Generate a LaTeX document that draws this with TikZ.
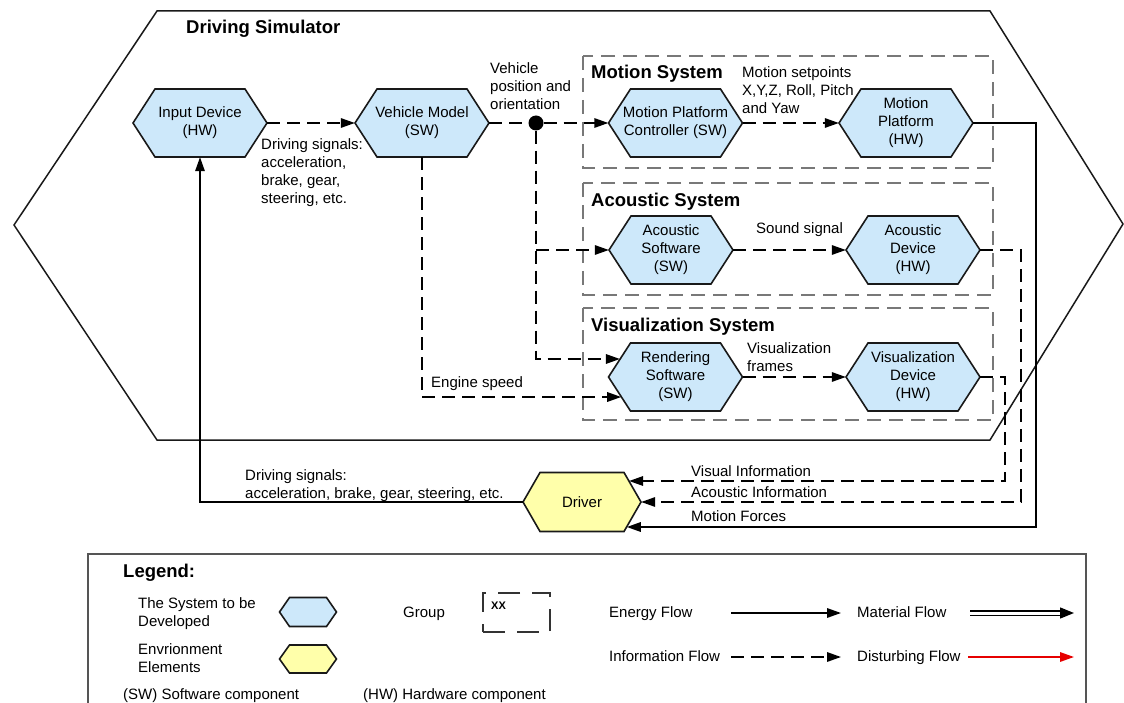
\documentclass[tikz,border=0pt]{standalone}
\usepackage{fontspec}
\setmainfont{Liberation Sans}
\usetikzlibrary{arrows.meta,calc}

\definecolor{sysblue}{RGB}{205,232,250}
\definecolor{envyellow}{RGB}{255,255,170}
\definecolor{groupgray}{RGB}{120,120,120}
\definecolor{framegray}{RGB}{85,85,85}
\definecolor{disturbred}{RGB}{230,0,0}

\tikzset{
  hexline/.style={draw=black!90, line width=1.6pt, line join=miter},
  hextext/.style={inner sep=0pt, align=center, font=\fontsize{15}{18}\selectfont},
  title/.style={font=\bfseries\fontsize{18.5}{22}\selectfont, anchor=west, inner sep=0pt, text height=13.5pt, text depth=4pt},
  lbl/.style={font=\fontsize{15}{18}\selectfont, anchor=west, inner sep=0pt, text height=11pt, text depth=3pt},
  mlbl/.style={font=\fontsize{15}{18}\selectfont, anchor=north west, inner sep=0pt, align=left},
  tip/.style={-{Triangle[length=14pt,width=9.5pt]}},
  infoline/.style={line width=1.6pt, dash pattern=on 13pt off 7pt},
  info/.style={infoline, tip},
  energy/.style={line width=1.6pt, tip},
  groupbox/.style={draw=groupgray, line width=1.3pt, dash pattern=on 14pt off 8pt},
  boundary/.style={draw=black!90, line width=1.5pt, line join=miter},
}

% hexagonal block: name, x, y, half width, half height, slant, fill, text
\newcommand\hexnode[8]{%
  \path[hexline, fill=#7] (#2-#4,#3) -- (#2-#4+#6,#3-#5) -- (#2+#4-#6,#3-#5)
     -- (#2+#4,#3) -- (#2+#4-#6,#3+#5) -- (#2-#4+#6,#3+#5) -- cycle;
  \node[hextext, minimum width=2*#4, minimum height=2*#5] (#1) at (#2,#3) {#8};%
}

\begin{document}
\begin{tikzpicture}[x=1pt,y=-1pt]
\useasboundingbox (0,0) rectangle (1124,703);

% outer boundary of the driving simulator
\draw[boundary] (157,11) -- (990,11) -- (1123,224) -- (990,440) -- (157,440) -- (14,225) -- cycle;
\node[title] (tsim) at (186,29) {Driving Simulator};

% subsystem groups
\draw[groupbox] (583,56) rectangle (993,168);
\draw[groupbox] (583,183) rectangle (993,295);
\draw[groupbox] (583,308) rectangle (993,420);
\node[title] (tmot) at (591,74) {Motion System};
\node[title] (taco) at (591,202) {Acoustic System};
\node[title] (tvis) at (591,327) {Visualization System};

% blocks
\hexnode{inp}{200}{123}{67}{34}{22}{sysblue}{Input Device\\(HW)}
\hexnode{veh}{422}{123}{67}{34}{22}{sysblue}{Vehicle Model\\(SW)}
\hexnode{mpc}{675.5}{123}{67}{34}{22}{sysblue}{Motion Platform\\Controller (SW)}
\hexnode{mp}{906}{123}{67}{34}{22}{sysblue}{Motion\\Platform\\(HW)}
\hexnode{as}{671}{250}{62}{34}{22}{sysblue}{Acoustic\\Software\\(SW)}
\hexnode{ad}{913}{250}{67}{34}{22}{sysblue}{Acoustic\\Device\\(HW)}
\hexnode{rs}{675.5}{377}{67}{34}{22}{sysblue}{Rendering\\Software\\(SW)}
\hexnode{vd}{913}{377}{67}{34}{22}{sysblue}{Visualization\\Device\\(HW)}
\hexnode{drv}{582}{502}{59}{29.5}{17}{envyellow}{Driver}

% branching point of the vehicle state
\node[circle, fill=black, inner sep=0pt, minimum size=15pt] (dot) at (536,123) {};
\coordinate (branch) at (dot |- as.west);
\coordinate (rsup) at ($(rs.west)+(11.6,-18)$);
\coordinate (rslow) at ($(rs.west)+(12.9,20)$);
\coordinate (drvvis) at ($(drv.east)+(-12.1,-21)$);
\coordinate (drvmot) at ($(drv.east)+(-14.4,25)$);
\coordinate (viscol) at (1005,430);
\coordinate (acocol) at (1021,400);
\coordinate (motcol) at (1036,300);

% information flows
\draw[info] (inp.east) -- (veh.west);
\draw[infoline] (veh.east) -- (dot);
\draw[info] (dot) -- (mpc.west);
\draw[info] (dot) |- (rsup);
\draw[info] (branch) -- (as.west);
\draw[info] (veh.south) |- (rslow);
\draw[info] (mpc.east) -- (mp.west);
\draw[info] (as.east) -- (ad.west);
\draw[info] (rs.east) -- (vd.west);
\draw[info] (vd.east) -| (viscol) |- (drvvis);
\draw[info] (ad.east) -| (acocol) |- (drv.east);

% energy flows
\draw[energy] (mp.east) -| (motcol) |- (drvmot);
\draw[energy] (drv.west) -| (inp.south);

% connector labels
\node[mlbl] (lblvpos) at (490,62.5) {Vehicle\\position and\\orientation};
\node[mlbl] (lbldrv1) at (261,138.5) {Driving signals:\\acceleration,\\brake, gear,\\steering, etc.};
\node[mlbl] (lblset) at (742,66.5) {Motion setpoints\\X,Y,Z, Roll, Pitch\\and Yaw};
\node[lbl] (lblsound) at (756,230) {Sound signal};
\node[mlbl] (lblframes) at (747,342.5) {Visualization\\frames};
\node[lbl] (lbleng) at (431,383) {Engine speed};
\node[mlbl] (lbldrv2) at (245,469.5) {Driving signals:\\acceleration, brake, gear, steering, etc.};
\node[lbl] (lblvis) at (691,472) {Visual Information};
\node[lbl] (lblaco) at (691,493) {Acoustic Information};
\node[lbl] (lblmot) at (691,517) {Motion Forces};

% legend
\draw[draw=framegray, line width=2pt] (88,710) -- (88,554) -- (1086,554) -- (1086,710);
\node[title] (tleg) at (123,573) {Legend:};
\node[mlbl] (lsys) at (138,597.5) {The System to be\\Developed};
\node[mlbl] (lenv) at (138,643.5) {Envrionment\\Elements};
\hexnode{legsys}{308}{612}{28.5}{14.5}{10}{sysblue}{}
\hexnode{legenv}{308}{659}{28.5}{14}{10}{envyellow}{}
\node[lbl] (lsw) at (123,695) {(SW) Software component};
\node[lbl] (lhw) at (363,695) {(HW) Hardware component};
\node[lbl] (lgroup) at (403,613) {Group};
\node[draw=black!80, line width=1.3pt, dash pattern=on 22pt off 12pt, minimum width=67pt, minimum height=39pt, inner sep=0pt] (leggrp) at (516.5,612.5) {};
\node[font=\bfseries\fontsize{11}{13}\selectfont, anchor=west, inner sep=0pt] (legxx) at (491,606) {XX};

\node[lbl] (lenergy) at (609,613) {Energy Flow};
\node[lbl] (lmat) at (857,613) {Material Flow};
\node[lbl] (linfo) at (609,657) {Information Flow};
\node[lbl] (ldist) at (857,657) {Disturbing Flow};
\coordinate (ea) at (731,613); \coordinate (eb) at (841,613);
\coordinate (ma) at (970,613); \coordinate (mb) at (1074,613);
\coordinate (ia) at (731,657); \coordinate (ib) at (841,657);
\coordinate (da) at (968,657); \coordinate (db) at (1074,657);
\draw[energy] (ea) -- (eb);
\draw[line width=1.4pt, double distance=3pt, -{Triangle[length=14pt,width=11pt]}] (ma) -- (mb);
\draw[info] (ia) -- (ib);
\draw[energy, draw=disturbred, fill=disturbred] (da) -- (db);
\end{tikzpicture}
\end{document}
